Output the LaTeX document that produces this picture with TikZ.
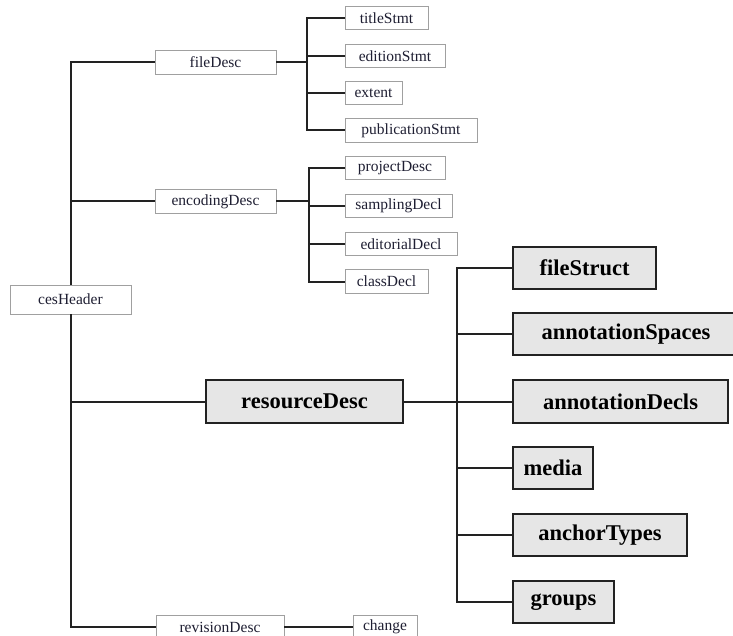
\documentclass[tikz,border=0pt]{standalone}
\usepackage{fontspec}
\setmainfont{Liberation Serif}
\definecolor{lineC}{HTML}{222222}
\definecolor{thinC}{HTML}{A0A0A0}
\definecolor{fillC}{HTML}{E6E6E6}
\definecolor{txtC}{HTML}{1E1E32}
\begin{document}
\begin{tikzpicture}[x=1pt,y=-1pt,
  smallbox/.style={draw=thinC,line width=0.9pt,fill=white,text=txtC,inner sep=0pt,
     minimum height=23.5pt,font=\fontsize{15.5}{15.5}\selectfont},
  boldbox/.style={draw=lineC,line width=1.6pt,fill=fillC,inner sep=0pt,
     minimum height=42.5pt,font=\fontsize{22.5}{22.5}\selectfont\bfseries},
  conn/.style={draw=lineC,line width=2pt}]
\useasboundingbox (0,0) rectangle (733,636);

% junction points
\coordinate (fj) at (307,62.5);
\coordinate (ej) at (309,201.5);
\coordinate (rj) at (457,401.5);

% nodes
\node[smallbox,minimum width=121pt,minimum height=29pt] (ces) at (70.5,299.5) {cesHeader};
\node[smallbox,minimum width=121pt] (fileDesc) at (215.5,62.5) {fileDesc};
\node[smallbox,minimum width=121pt] (encodingDesc) at (215.5,201.5) {encodingDesc};
\node[smallbox,minimum width=83pt] (titleStmt) at (386.5,18) {titleStmt};
\node[smallbox,minimum width=100pt] (editionStmt) at (395,56) {editionStmt};
\node[smallbox,minimum width=57pt] (extent) at (373.5,93) {extent};
\node[smallbox,minimum width=132pt] (publicationStmt) at (411,130.5) {publicationStmt};
\node[smallbox,minimum width=100pt] (projectDesc) at (395,168) {projectDesc};
\node[smallbox,minimum width=107pt] (samplingDecl) at (398.5,206) {samplingDecl};
\node[smallbox,minimum width=112pt] (editorialDecl) at (401,244) {editorialDecl};
\node[smallbox,minimum width=83pt] (classDecl) at (386.5,281.5) {classDecl};
\node[smallbox,minimum width=128pt] (revisionDesc) at (220,627) {revisionDesc};
\node[smallbox,minimum width=64pt] (change) at (385,627) {change};

\node[boldbox,minimum width=197pt] (resourceDesc) at (304.5,401.5) {resourceDesc};
\node[boldbox,minimum width=143pt] (fileStruct) at (584.5,268) {fileStruct};
\node[boldbox,minimum width=232pt] (annotationSpaces) at (629,334) {\hspace*{-6pt}annotationSpaces};
\node[boldbox,minimum width=215pt] (annotationDecls) at (620.5,401.5) {annotationDecls};
\node[boldbox,minimum width=80pt] (media) at (553,468) {media};
\node[boldbox,minimum width=174pt] (anchorTypes) at (600,535) {anchorTypes};
\node[boldbox,minimum width=101pt] (groups) at (563.5,602) {groups};

% connectors
\begin{scope}[conn]
\draw (fileDesc.west) -| (ces.north);
\draw (encodingDesc.west) -| (ces.north);
\draw (ces.south) |- (resourceDesc.west);
\draw (ces.south) |- (revisionDesc.west);
\draw (fileDesc.east) -- (fj);
\draw (titleStmt.west) -| (fj);
\draw (editionStmt.west) -| (fj);
\draw (extent.west) -| (fj);
\draw (publicationStmt.west) -| (fj);
\draw (encodingDesc.east) -- (ej);
\draw (projectDesc.west) -| (ej);
\draw (samplingDecl.west) -| (ej);
\draw (editorialDecl.west) -| (ej);
\draw (classDecl.west) -| (ej);
\draw (resourceDesc.east) -- (rj);
\draw (fileStruct.west) -| (rj);
\draw (annotationSpaces.west) -| (rj);
\draw (annotationDecls.west) -| (rj);
\draw (media.west) -| (rj);
\draw (anchorTypes.west) -| (rj);
\draw (groups.west) -| (rj);
\draw (revisionDesc.east) -- (change.west);
\end{scope}
\end{tikzpicture}
\end{document}
